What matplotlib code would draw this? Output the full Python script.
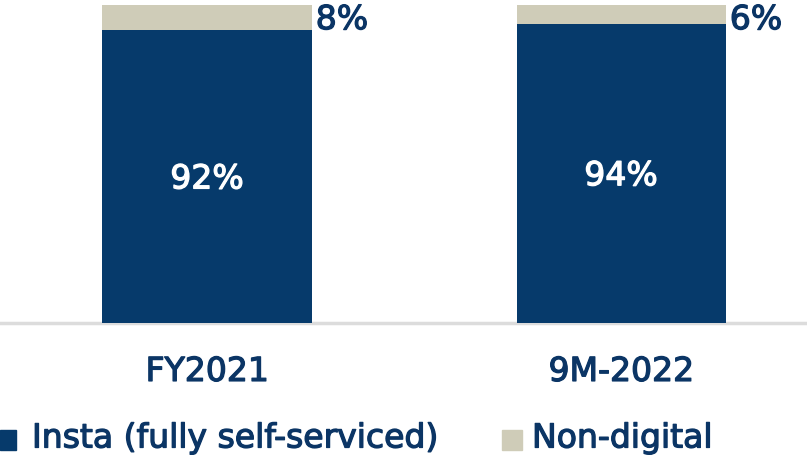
import matplotlib
matplotlib.use("Agg")
import matplotlib.pyplot as plt
from matplotlib.patches import Rectangle
import matplotlib.patheffects as pe

categories = ["FY2021", "9M-2022"]
insta = [92, 94]
non_digital = [8, 6]
series_names = ["Insta (fully self-serviced)", "Non-digital"]

BLUE = "#063a6b"
BEIGE = "#cfccb8"
TEXT = "#0b3565"
plt.rcParams['font.family'] = ['DejaVu Sans']
FS = 23.8


def thick(color):
    return [pe.withStroke(linewidth=0.9, foreground=color)]


fig = plt.figure(figsize=(8.07, 4.62), dpi=100)
ax = fig.add_axes([0, (462 - 323) / 462, 1, 318 / 462])
x = list(range(len(categories)))
w = 0.505
ax.bar(x, insta, width=w, color=BLUE, zorder=2)
ax.bar(x, non_digital, bottom=insta, width=w, color=BEIGE, zorder=2)
for xi, v, nd in zip(x, insta, non_digital):
    ax.text(xi, v / 2 - 0.7, f"{v}%", color="white", ha="center", va="center", fontsize=FS,
            path_effects=thick("white"))
    ax.text(xi + w / 2 + 0.01, 95.4, f"{nd}%", color=TEXT, ha="left", va="center", fontsize=FS,
            path_effects=thick(TEXT))
ax.set_xlim(-0.5, 1.449)
ax.set_ylim(0, 100)
for s in ["top", "right", "left"]:
    ax.spines[s].set_visible(False)
ax.spines["bottom"].set_color("#dcdcdc")
ax.spines["bottom"].set_linewidth(2.5)
ax.spines["bottom"].set_zorder(1)
ax.set_yticks([])
ax.set_xticks(x)
ax.set_xticklabels(categories, fontsize=FS, color=TEXT)
for t in ax.get_xticklabels():
    t.set_path_effects(thick(TEXT))
ax.tick_params(axis="x", length=0, pad=23)

# legend
fig.patches.append(Rectangle((0 / 807, (462 - 450) / 462), 16 / 807, 20 / 462,
                             transform=fig.transFigure, color=BLUE))
fig.text(32 / 807, (462 - 438) / 462, series_names[0], color=TEXT, fontsize=FS, va="center", ha="left",
         path_effects=thick(TEXT))
fig.patches.append(Rectangle((502 / 807, (462 - 450) / 462), 20 / 807, 20 / 462,
                             transform=fig.transFigure, color=BEIGE))
fig.text(532 / 807, (462 - 438) / 462, series_names[1], color=TEXT, fontsize=FS, va="center", ha="left",
         path_effects=thick(TEXT))

fig.savefig("out.png", dpi=100)
